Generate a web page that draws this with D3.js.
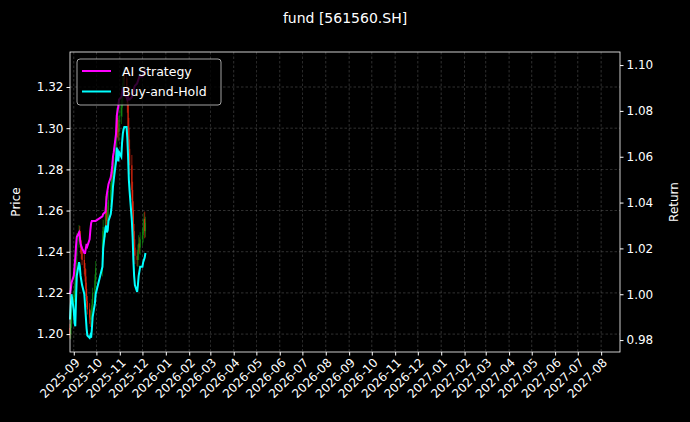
<!DOCTYPE html>
<html><head><meta charset="utf-8">
<script src="https://cdn.jsdelivr.net/npm/d3@7"></script>
<style>body{margin:0;background:#000}</style></head>
<body><svg id="c" width="690" height="422"></svg>
<script>
const title = "fund [561560.SH]";
const seriesNames = ["AI Strategy", "Buy-and-Hold"];
const priceTicks = [1.20,1.22,1.24,1.26,1.28,1.30,1.32];
const returnTicks = [0.98,1.00,1.02,1.04,1.06,1.08,1.10];
const closes = [1.200,1.205,1.212,
 1.218,1.222,1.228,1.238,1.245,1.250,1.247,1.242,1.240,1.236,1.232,1.228,1.222,1.216,1.212,1.208,1.207,1.210,1.214,1.220,1.226,1.232,
 1.246,1.252,1.262,1.258,1.255,1.260,1.265,1.270,1.276,1.280,1.278,1.286,1.295,1.305,1.300,1.298,1.306,
 1.310,1.316,1.322,1.326,1.324,1.320,1.312,1.300,1.290,1.282,1.270,1.260,1.250,1.242,1.238,1.236,1.240,1.244,1.242,1.246,
 1.248,1.252,1.256,1.250,1.254];
const wicks = [0.004,0.005,0.004,
 0.006,0.005,0.007,0.006,0.008,0.006,0.005,0.006,0.007,0.005,0.006,0.005,0.007,0.006,0.005,0.006,0.007,0.005,0.006,0.005,0.006,0.007,
 0.008,0.007,0.010,0.012,0.009,0.008,0.009,0.007,0.010,0.008,0.007,0.009,0.008,0.010,0.009,0.008,0.009,
 0.008,0.009,0.010,0.009,0.008,0.010,0.009,0.011,0.010,0.009,0.010,0.008,0.009,0.007,0.008,0.006,0.007,0.008,0.006,0.007,
 0.006,0.007,0.006,0.007,0.006];
const buyHold = [0.989,0.995,1.000,
 0.993,0.988,0.986,0.998,1.008,1.014,1.012,1.008,1.006,1.004,1.000,0.995,0.990,0.985,0.982,0.981,0.982,0.981,0.985,0.990,0.996,1.000,
 1.012,1.020,1.029,1.030,1.027,1.028,1.032,1.035,1.038,1.042,1.047,1.050,1.058,1.064,1.060,1.058,1.062,
 1.060,1.066,1.070,1.072,1.073,1.073,1.068,1.060,1.050,1.045,1.032,1.025,1.015,1.008,1.004,1.001,1.004,1.008,1.010,1.012,
 1.012,1.014,1.015,1.016,1.018];
const aiStrategy = [1.000,1.002,1.005,
 1.008,1.012,1.016,1.021,1.025,1.027,1.025,1.022,1.021,1.020,1.018,1.018,1.020,1.022,1.021,1.024,1.028,1.031,1.032,1.032,1.032,1.032,
 1.034,1.035,1.036,1.040,1.044,1.046,1.048,1.051,1.053,1.056,1.060,1.062,1.070,1.078,1.080,1.082,1.085,
 1.086,1.088,1.090,1.088,1.087,1.086,1.085,1.086,1.085,1.085,1.086,1.088,1.088,1.090,1.091,1.092,1.093,1.094,1.095,1.095,
 1.095,1.096,1.097,1.097,1.098];

const dates = [];
for (let d = new Date(2025,7,27); d <= new Date(2025,11,5); d.setDate(d.getDate()+1)) {
  const wd = d.getDay();
  if (wd===0||wd===6) continue;
  if (d.getMonth()===9 && d.getDate()<=8) continue;
  dates.push(new Date(d));
}
const n = Math.min(dates.length, closes.length);

const svg = d3.select("#c");
const L=70,R=620,T=52,B=352;
const font="DejaVu Sans, sans-serif";
const x = d3.scaleTime().domain([new Date(2025,7,27), new Date(2027,7,26)]).range([L,R]);
const yP = d3.scaleLinear().domain([1.1913,1.3370]).range([B,T]);
const yR = d3.scaleLinear().domain([0.9748,1.1057]).range([B,T]);

const months = d3.timeMonth.range(new Date(2025,8,1), new Date(2027,8,1));
const g = svg.append("g");
months.forEach(m=>g.append("line").attr("x1",x(m)).attr("x2",x(m)).attr("y1",T).attr("y2",B));
priceTicks.forEach(t=>g.append("line").attr("x1",L).attr("x2",R).attr("y1",yP(t)).attr("y2",yP(t)));
g.selectAll("line").attr("stroke","#666").attr("stroke-width",0.6).attr("stroke-dasharray","2.5,2").attr("opacity",0.8);

const cg = svg.append("g");
for (let i=0;i<n;i++){
  const o = i===0?closes[0]+0.003:closes[i-1], c=closes[i];
  const col = c>=o?"#139013":"#ee2a10";
  const hi=Math.max(o,c)+wicks[i]/2, lo=Math.min(o,c)-wicks[i]/2;
  const xi=x(dates[i]);
  cg.append("line").attr("x1",xi).attr("x2",xi).attr("y1",yP(hi)).attr("y2",yP(lo)).attr("stroke",col).attr("stroke-width",0.8).attr("opacity",0.8);
  cg.append("rect").attr("x",xi-0.6).attr("width",1.2).attr("y",yP(Math.max(o,c))).attr("height",Math.max(0.8,Math.abs(yP(o)-yP(c)))).attr("fill",col).attr("opacity",0.8);
}
const line = arr => d3.line().x((d,i)=>x(dates[i])).y(d=>yR(d))(arr.slice(0,n));
svg.append("path").attr("d",line(aiStrategy)).attr("fill","none").attr("stroke","#ff00ff").attr("stroke-width",2);
svg.append("path").attr("d",line(buyHold)).attr("fill","none").attr("stroke","#00ffff").attr("stroke-width",2);

const ax = svg.append("g").attr("transform",`translate(0,${B})`).call(d3.axisBottom(x).tickValues(months).tickFormat(d3.timeFormat("%Y-%m")).tickSizeOuter(0).tickSize(3.5));
ax.selectAll("text").attr("transform","rotate(-45)").attr("text-anchor","end").attr("dx","-0.3em").attr("dy","0.5em");
const al = svg.append("g").attr("transform",`translate(${L},0)`).call(d3.axisLeft(yP).tickValues(priceTicks).tickFormat(d3.format(".2f")).tickSizeOuter(0).tickSize(3.5));
const ar = svg.append("g").attr("transform",`translate(${R},0)`).call(d3.axisRight(yR).tickValues(returnTicks).tickFormat(d3.format(".2f")).tickSizeOuter(0).tickSize(3.5));
[ax,al,ar].forEach(a=>{a.selectAll("text").attr("fill","#fff").attr("font-size",12).attr("font-family",font);a.selectAll("line").attr("stroke","#fff");a.select(".domain").attr("stroke","none");});
svg.append("rect").attr("x",L).attr("y",T).attr("width",R-L).attr("height",B-T).attr("fill","none").attr("stroke","#fff").attr("stroke-width",0.8);

svg.append("text").attr("x",345).attr("y",23).attr("text-anchor","middle").attr("fill","#fff").attr("font-size",14).attr("font-family",font).text(title);
svg.append("text").attr("transform",`translate(20,${(T+B)/2}) rotate(-90)`).attr("text-anchor","middle").attr("fill","#fff").attr("font-size",12).attr("font-family",font).text("Price");
svg.append("text").attr("transform",`translate(678,${(T+B)/2}) rotate(-90)`).attr("text-anchor","middle").attr("fill","#fff").attr("font-size",12).attr("font-family",font).text("Return");

const lg = svg.append("g");
lg.append("rect").attr("x",77).attr("y",59).attr("width",144).attr("height",46).attr("rx",3).attr("fill","#000").attr("fill-opacity",0.8).attr("stroke","#ccc").attr("stroke-width",0.8);
[["#ff00ff",seriesNames[0]],["#00ffff",seriesNames[1]]].forEach((s,i)=>{
  const yy=71+i*20.5;
  lg.append("line").attr("x1",82).attr("x2",111).attr("y1",yy).attr("y2",yy).attr("stroke",s[0]).attr("stroke-width",2);
  lg.append("text").attr("x",122).attr("y",yy+4.5).attr("fill","#fff").attr("font-size",12.5).attr("font-family",font).text(s[1]);
});
</script></body></html>
